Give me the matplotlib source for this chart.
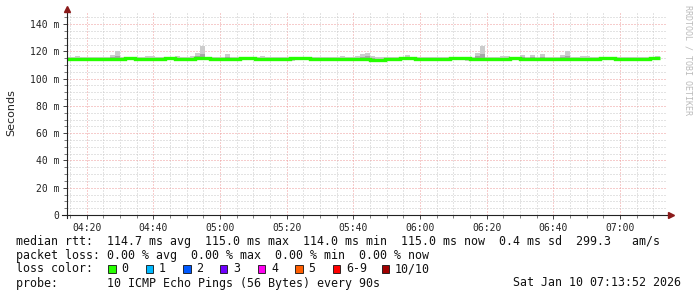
import matplotlib
matplotlib.use('Agg')
import matplotlib.pyplot as plt
import numpy as np
from matplotlib.patches import Rectangle
from matplotlib.lines import Line2D

plt.rcParams['font.family'] = ['DejaVu Sans Mono']

# ---- data (90 s steps, minutes after 04:00) ----
start_min = 13.5
step_min = 1.5

median = [114.7, 114.7, 114.4, 114.4, 114.4, 114.4, 114.4, 114.4, 114.4, 114.7,
          114.7, 114.7, 115.0, 115.0, 114.7, 114.7, 114.7, 114.7, 114.4, 114.4,
          115.0, 115.0, 114.7, 114.7, 114.7, 114.7, 115.0, 115.0, 115.0, 114.4,
          114.4, 114.4, 114.7, 114.7, 114.7, 115.0, 115.0, 115.0, 114.7, 114.7,
          114.7, 114.7, 114.4, 114.4, 114.4, 115.0, 115.0, 115.0, 115.0, 114.7,
          114.7, 114.7, 114.7, 114.7, 114.7, 114.4, 114.4, 114.4, 114.7, 114.7,
          114.7, 114.0, 114.0, 114.0, 114.7, 114.7, 114.7, 115.0, 115.0, 115.0,
          114.7, 114.7, 114.7, 114.7, 114.4, 114.4, 114.4, 115.0, 115.0, 115.0,
          115.0, 114.7, 114.7, 114.7, 114.7, 114.7, 114.7, 114.7, 114.7, 115.0,
          115.0, 114.7, 114.7, 114.7, 114.7, 114.4, 114.4, 114.4, 114.7, 114.7,
          114.7, 114.4, 114.4, 114.4, 114.7, 114.7, 114.7, 115.0, 115.0, 115.0,
          114.4, 114.4, 114.4, 114.7, 114.7, 114.7, 114.7, 115.0, 115.0]

ping_max = [115.8, 115.8, 116.3, 115.6, 115.6, 115.6, 116.0, 116.0, 116.2, 117.6,
            120.2, 116.0, 116.0, 115.8, 115.6, 116.0, 116.3, 116.8, 115.8, 116.2,
            116.0, 115.6, 116.4, 115.6, 116.2, 116.6, 119.0, 123.7, 115.8, 115.6,
            115.6, 115.6, 118.2, 116.0, 115.6, 115.6, 116.0, 115.6, 116.0, 116.8,
            115.6, 116.0, 115.6, 115.6, 115.8, 116.0, 116.0, 115.6, 115.6, 115.8,
            115.6, 116.0, 116.0, 115.6, 115.6, 116.3, 115.6, 116.0, 116.3, 117.8,
            119.0, 116.3, 115.6, 115.6, 115.8, 115.6, 115.6, 115.8, 117.1, 115.8,
            115.9, 115.9, 115.6, 115.6, 116.0, 116.0, 115.6, 115.8, 115.8, 115.6,
            115.8, 115.8, 119.0, 124.0, 115.6, 115.6, 115.6, 116.3, 116.3, 115.8,
            115.8, 117.0, 115.6, 117.2, 115.6, 117.8, 116.0, 115.6, 116.0, 117.0,
            120.3, 116.0, 116.0, 116.6, 116.6, 115.6, 115.6, 115.8, 115.8, 116.0,
            116.0, 116.0, 115.6, 115.6, 115.6, 115.8, 115.6, 115.8, 116.6]

ping_min = [113.4, 113.2, 113.4, 113.4, 113.2, 113.4, 113.4, 113.2, 113.4, 113.4,
            113.4, 113.2, 113.6, 113.6, 113.4, 113.4, 113.2, 113.4, 113.2, 113.2,
            113.6, 113.6, 113.4, 112.9, 112.9, 113.4, 113.6, 113.6, 113.4, 113.2,
            113.2, 113.4, 113.4, 113.2, 113.4, 113.6, 113.6, 113.4, 113.4, 113.4,
            113.4, 113.4, 113.2, 112.8, 112.8, 113.2, 113.6, 113.6, 113.4, 113.4,
            113.4, 113.4, 113.4, 113.2, 113.4, 113.2, 113.2, 113.4, 113.4, 113.4,
            113.4, 112.9, 112.9, 113.2, 112.9, 113.4, 113.4, 113.6, 113.6, 113.6,
            113.4, 113.4, 113.2, 113.4, 113.2, 113.2, 113.2, 113.6, 113.6, 113.4,
            113.2, 113.0, 113.0, 113.2, 113.4, 113.4, 113.0, 113.0, 113.2, 113.6,
            113.6, 113.4, 113.2, 113.4, 113.4, 113.2, 113.2, 113.0, 113.4, 113.4,
            113.4, 113.2, 113.2, 113.2, 113.4, 113.4, 113.4, 113.6, 113.6, 113.6,
            113.0, 113.2, 113.2, 113.4, 113.4, 113.4, 113.4, 113.6, 113.6]

x_tick_minutes = [20, 40, 60, 80, 100, 120, 140, 160, 180]
x_tick_labels = ['04:20', '04:40', '05:00', '05:20', '05:40', '06:00', '06:20', '06:40', '07:00']
y_ticks = [0, 20, 40, 60, 80, 100, 120, 140]
y_tick_labels = ['0', '20 m', '40 m', '60 m', '80 m', '100 m', '120 m', '140 m']

loss_labels = ['0', '1', '2', '3', '4', '5', '6-9', '10/10']
loss_colors = ['#26ff00', '#00b8ff', '#0059ff', '#7000ff', '#ff00f0', '#ff5e00', '#ff0000', '#a10000']

legend_lines = [
    'median rtt:  114.7 ms avg  115.0 ms max  114.0 ms min  115.0 ms now  0.4 ms sd  299.3   am/s',
    'packet loss: 0.00 % avg  0.00 % max  0.00 % min  0.00 % now',
    'loss color:',
    'probe:       10 ICMP Echo Pings (56 Bytes) every 90s',
]
stamp = 'Sat Jan 10 07:13:52 2026'

# ---- figure ----
W, H = 697, 297
fig = plt.figure(figsize=(W / 100, H / 100), dpi=100)
fig.patch.set_facecolor('white')


def fx(px):
    return px / W


def fy(py):
    return 1 - py / H


ax = fig.add_axes([fx(67), fy(215), 600 / W, 202 / H])
ax.set_xlim(14.1, 194.1)
ax.set_ylim(0, 202 / 1.364)

med = np.array(median)
hi = np.array(ping_max)
lo = np.array(ping_min)
edges = start_min + step_min * np.arange(len(med) + 1)


def ext(a):
    return np.append(a, a[-1])


# smoke: light outer band, darker inner band
ax.fill_between(edges, ext(lo), ext(hi), step='post', color='#cccccc', lw=0, zorder=2)
ax.fill_between(edges, ext(med - (med - lo) * 0.5), ext(med + (hi - med) * 0.35),
                step='post', color='#a6a6a6', lw=0, zorder=3)
ax.step(edges, ext(med), where='post', color='#26ff00', lw=2.4, zorder=4,
        solid_joinstyle='miter', solid_capstyle='butt')

ax.set_xticks(x_tick_minutes)
ax.set_xticklabels(x_tick_labels)
ax.set_xticks(np.arange(15, 195, 5), minor=True)
ax.set_yticks(y_ticks)
ax.set_yticklabels(y_tick_labels)
ax.set_yticks(np.arange(5, 150, 5), minor=True)

ax.grid(which='minor', color='#c8c8c8', linestyle=(0, (1, 2)), lw=0.72)
ax.grid(which='major', color='#ee9a9a', linestyle=(0, (1, 2)), lw=0.72)
ax.set_axisbelow(True)
for s in ax.spines.values():
    s.set_visible(False)

ax.tick_params(which='major', length=3, width=0.7, color='#444444',
               labelsize=7, labelcolor='#222222', pad=2.5)
ax.tick_params(which='minor', length=2, width=0.6, color='#666666')

# axis lines with arrows
fig.add_artist(Line2D([fx(62), fx(670)], [fy(215), fy(215)], color='#222222', lw=0.8))
fig.add_artist(Line2D([fx(67), fx(67)], [fy(218), fy(10)], color='#222222', lw=0.8))
fig.add_artist(Line2D([fx(671)], [fy(215)], marker='>', color='#8b1a1a', markersize=4, lw=0))
fig.add_artist(Line2D([fx(67)], [fy(9)], marker='^', color='#8b1a1a', markersize=4, lw=0))

fig.text(fx(11), fy(113), 'Seconds', rotation=90, ha='center', va='center',
         fontsize=8, family='DejaVu Sans', color='#222222')
fig.text(fx(688), fy(5), 'RRDTOOL / TOBI OETIKER', rotation=270, ha='center', va='top',
         fontsize=6, color='#bbbbbb')

# legend area
baselines = [244.5, 258.5, 272.5, 286.5]
for line, b in zip(legend_lines, baselines):
    fig.text(fx(16), fy(b), line, fontsize=8.4, va='baseline', ha='left', color='#111111')
fig.text(fx(513), fy(286.5), stamp, fontsize=8.4, va='baseline', ha='left', color='#111111')

box_x = [108, 145.5, 183, 220, 257.5, 295, 332.5, 381.5]
for bx, lab, col in zip(box_x, loss_labels, loss_colors):
    fig.add_artist(Rectangle((fx(bx), fy(272.5)), 7.5 / W, 7.5 / H, facecolor=col,
                             edgecolor='#111111', lw=0.6, transform=fig.transFigure))
    fig.text(fx(bx + 13.5), fy(272.5), lab, fontsize=8.4, va='baseline', ha='left',
             color='#111111')

fig.savefig('out.png', dpi=100)
